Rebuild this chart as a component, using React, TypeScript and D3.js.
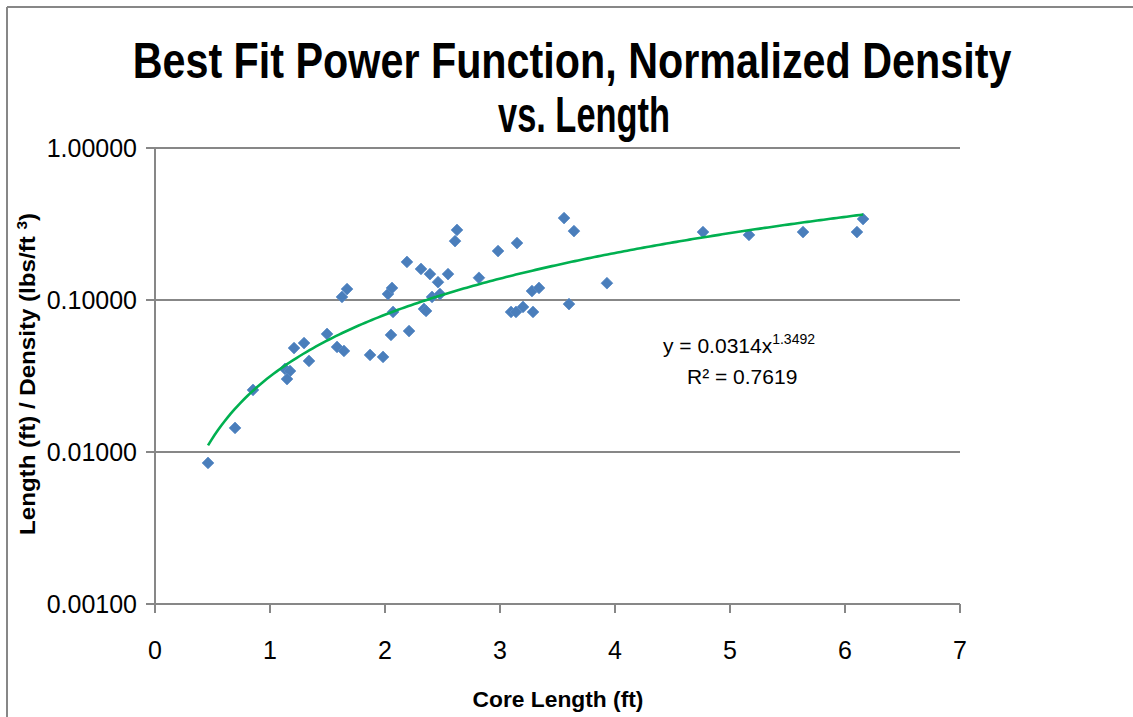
import React from "react";
import * as d3 from "d3";

const coreLength = [
  0.461, 0.696, 0.852, 1.13, 1.174, 1.148, 1.209, 1.296, 1.339, 1.496,
  1.583, 1.643, 1.626, 1.67, 1.87, 1.983, 2.026, 2.061, 2.07, 2.052,
  2.191, 2.209, 2.313, 2.391, 2.461, 2.548, 2.339, 2.357, 2.409, 2.478,
  2.626, 2.609, 2.817, 2.983, 3.148, 3.096, 3.139, 3.2, 3.287, 3.278,
  3.339, 3.557, 3.643, 3.6, 3.93, 4.765, 5.165, 5.635, 6.104, 6.157,
];
const normDensity = [
  0.00847, 0.0144, 0.0256, 0.0352, 0.0341, 0.0302, 0.0483, 0.0521, 0.0397, 0.0598,
  0.0491, 0.0462, 0.1047, 0.118, 0.0435, 0.0422, 0.1095, 0.12, 0.0834, 0.0589,
  0.178, 0.0625, 0.16, 0.148, 0.131, 0.148, 0.0873, 0.0847, 0.1047, 0.1095,
  0.289, 0.244, 0.14, 0.21, 0.237, 0.0834, 0.0834, 0.09, 0.0834, 0.1146,
  0.12, 0.346, 0.284, 0.094, 0.129, 0.28, 0.268, 0.28, 0.28, 0.341,
];
const xTicks = [0, 1, 2, 3, 4, 5, 6, 7];
const yTicks = [1, 0.1, 0.01, 0.001];
const yTickLabels = ["1.00000", "0.10000", "0.01000", "0.00100"];
const titleLines = ["Best Fit Power Function, Normalized Density", "vs. Length"];
const fitA = 0.0314;
const fitB = 1.3492;
const fitR2 = "0.7619";

const FONT = "'Liberation Sans', Arial, sans-serif";
const GRID = "#878787";

function measure(text: string, font: string): number {
  if (typeof document === "undefined") return text.length * 20;
  const c = document.createElement("canvas").getContext("2d");
  if (!c) return text.length * 20;
  c.font = font;
  return c.measureText(text).width;
}

export default function App() {
  const x = d3.scaleLinear().domain([0, 7]).range([155, 960]);
  const y = d3.scaleLog().domain([0.001, 1]).range([604, 148]);
  const xMin = d3.min(coreLength) as number;
  const xMax = d3.max(coreLength) as number;
  const fitXs = d3.range(0, 201).map((i) => xMin + ((xMax - xMin) * i) / 200);
  const fitLine = d3
    .line<number>()
    .x((d) => x(d))
    .y((d) => y(fitA * Math.pow(d, fitB)))(fitXs);
  const diamond = d3.symbol().type(d3.symbolDiamond2).size(88)() as string;

  const titleFont = "bold 50px 'Liberation Sans'";
  const t1s = 879 / measure(titleLines[0], titleFont);
  const t2s = 172 / measure(titleLines[1], titleFont);
  const xtFont = "bold 22px 'Liberation Sans'";
  const xts = 171 / measure("Core Length (ft)", xtFont);
  const yts = 322 / (measure("Length (ft) / Density (lbs/ft ", xtFont) + measure("3", "bold 14px 'Liberation Sans'") + measure(")", xtFont));

  return (
    <div style={{ position: "absolute", left: 0, top: 0 }}>
      <svg width={1133} height={717} style={{ display: "block", background: "#fff" }}>
        <rect x={0} y={0} width={1133} height={717} fill="#fff" />
        {/* chart frame */}
        <line x1={7} y1={7} x2={1133} y2={7} stroke={GRID} strokeWidth={2} />
        <line x1={7} y1={7} x2={7} y2={717} stroke={GRID} strokeWidth={2} />

        {/* title */}
        <text transform={`translate(572,78) scale(${t1s},1)`} textAnchor="middle" fontFamily={FONT}
          fontWeight="bold" fontSize={50}>
          {titleLines[0]}
        </text>
        <text transform={`translate(584,132) scale(${t2s},1)`} textAnchor="middle" fontFamily={FONT}
          fontWeight="bold" fontSize={50}>
          {titleLines[1]}
        </text>

        {/* gridlines */}
        {yTicks.map((t) => (
          <line key={"g" + t} x1={x(0) - 9} x2={x(7)} y1={y(t)} y2={y(t)} stroke={GRID} strokeWidth={2} />
        ))}
        {/* y axis line */}
        <line x1={x(0)} x2={x(0)} y1={y(1)} y2={y(0.001)} stroke={GRID} strokeWidth={2} />
        {/* x ticks */}
        {xTicks.map((t) => (
          <line key={"xt" + t} x1={x(t)} x2={x(t)} y1={y(0.001)} y2={y(0.001) + 9} stroke={GRID} strokeWidth={2} />
        ))}
        {/* y tick labels */}
        {yTicks.map((t, i) => (
          <text key={"yl" + t} x={137} y={y(t) + 9} textAnchor="end" fontFamily={FONT} fontSize={25} fill="#000">
            {yTickLabels[i]}
          </text>
        ))}
        {/* x tick labels */}
        {xTicks.map((t) => (
          <text key={"xl" + t} x={x(t)} y={659} textAnchor="middle" fontFamily={FONT} fontSize={25} fill="#000">
            {t}
          </text>
        ))}

        {/* axis titles */}
        <text transform={`translate(558,707) scale(${xts},1)`} textAnchor="middle" fontFamily={FONT}
          fontWeight="bold" fontSize={22}>
          Core Length (ft)
        </text>
        <text transform={`translate(35,374) rotate(-90) scale(${yts},1)`} textAnchor="middle" fontFamily={FONT}
          fontWeight="bold" fontSize={22}>
          Length (ft) / Density (lbs/ft <tspan baselineShift="super" fontSize={14}>3</tspan>)
        </text>

        {/* points */}
        {coreLength.map((cx, i) => (
          <path key={"p" + i} d={diamond} transform={`translate(${x(cx)},${y(normDensity[i])})`}
            fill="#4A7EBB" stroke="#5B8CC8" strokeWidth={0.8} />
        ))}

        {/* fit line */}
        <path d={fitLine || ""} fill="none" stroke="#00B050" strokeWidth={2.6} />

        {/* equation */}
        <text x={663} y={353} fontFamily={FONT} fontSize={21} fill="#000">
          y = {fitA}x<tspan dy={-9} fontSize={14}>{fitB}</tspan>
        </text>
        <text x={687} y={384} fontFamily={FONT} fontSize={21} fill="#000">
          R² = {fitR2}
        </text>
      </svg>
    </div>
  );
}
